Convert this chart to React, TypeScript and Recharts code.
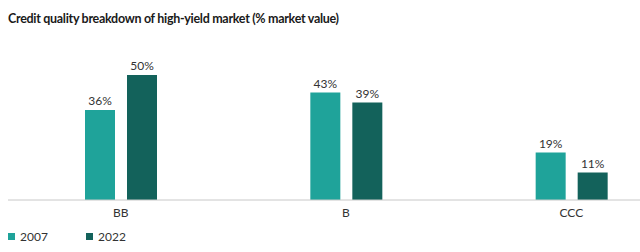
import { BarChart, Bar, XAxis, YAxis, LabelList } from 'recharts'

const categories = ['BB', 'B', 'CCC']
const values2007 = [36, 43, 19]
const values2022 = [50, 39, 11]

const C2007 = '#1fa39a'
const C2022 = '#13625b'

const data = categories.map((name, i) => ({ name, y2007: values2007[i], y2022: values2022[i] }))

const pct = (v: any) => `${v}%`

export default function App() {
  return (
    <div style={{ position: 'relative', width: 640, height: 252, background: '#fff', fontFamily: 'Lato, sans-serif', color: '#222' }}>
      <style>{'body{margin:0}'}</style>
      {/* title */}
      <div style={{ position: 'absolute', left: 8, top: 11, fontSize: 12.5, letterSpacing: -0.3, fontWeight: 700, color: '#1a1a1a' }}>
        Credit quality breakdown of high-yield market (% market value)
      </div>

      <BarChart width={640} height={230} data={data} margin={{ top: 50, right: 0, left: 8, bottom: 0 }} barGap={12} barSize={30}>
        <XAxis
          dataKey="name"
          height={30}
          padding={{ left: 0, right: -44 }}
          axisLine={{ stroke: '#c8c8c8' }}
          tickLine={false}
          tick={{ fill: '#333', fontSize: 12 }}
        />
        <YAxis hide domain={[0, 60]} />
        <Bar dataKey="y2007" fill={C2007} isAnimationActive={false}>
          <LabelList dataKey="y2007" position="top" offset={5} formatter={pct} fill="#333" fontSize={12} />
        </Bar>
        <Bar dataKey="y2022" fill={C2022} isAnimationActive={false}>
          <LabelList dataKey="y2022" position="top" offset={5} formatter={pct} fill="#333" fontSize={12} />
        </Bar>
      </BarChart>

      {/* legend */}
      {[{ label: '2007', color: C2007, x: 8 }, { label: '2022', color: C2022, x: 86 }].map(item => (
        <div key={item.label} style={{ position: 'absolute', left: item.x, top: 229, display: 'flex', alignItems: 'center', fontSize: 12, color: '#333' }}>
          <span style={{ width: 7, height: 7, background: item.color, marginRight: 5, display: 'inline-block' }} />
          {item.label}
        </div>
      ))}
    </div>
  )
}
